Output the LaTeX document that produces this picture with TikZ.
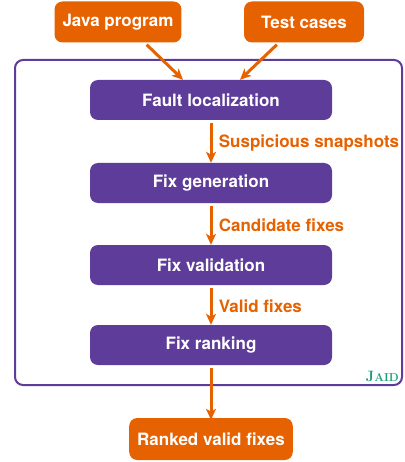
\documentclass[tikz,border=0pt]{standalone}
\usepackage{fontspec}
\setmainfont{TeX Gyre Heros}
\newfontfamily\jaidfont{Latin Modern Roman}
\usetikzlibrary{positioning,arrows.meta}
\definecolor{jorange}{RGB}{230,97,0}
\definecolor{jpurple}{RGB}{94,60,153}
\definecolor{jgreen}{RGB}{27,158,119}

\tikzset{
  stagebox/.style={rectangle, rounded corners=8pt, fill=jpurple, text=white,
    minimum width=242pt, minimum height=40pt, font=\bfseries\fontsize{17}{19}\selectfont},
  iobox/.style={rectangle, rounded corners=8pt, fill=jorange, text=white,
    minimum height=41pt, inner xsep=8pt, font=\bfseries\fontsize{17}{19}\selectfont},
  flow/.style={jorange, line width=3pt, -{Stealth[length=11pt,width=10pt,inset=3pt]}},
  flowlabel/.style={text=jorange, anchor=west, font=\bfseries\fontsize{17}{19}\selectfont}
}

\begin{document}
\begin{tikzpicture}[x=1pt,y=-1pt]
\useasboundingbox (0,0) rectangle (404,462);

% Frame of the tool
\draw[jpurple, line width=2pt, rounded corners=8pt] (15,60) rectangle (402,385);
\node[anchor=base east, inner sep=0pt, text=jgreen, font=\jaidfont\bfseries] (jaid) at (399,381)
  {{\fontsize{15}{16}\selectfont J}{\fontsize{11.5}{12}\selectfont AID}};

% Inputs and output
\node[iobox, minimum width=124pt] (java) at (118,22) {Java program};
\node[iobox, minimum width=120pt] (tests) at (304,22) {Test cases};
\node[iobox, minimum width=162pt, minimum height=42pt] (ranked) at (211,439) {Ranked valid fixes};

% Draw the four stages
\foreach \i/\y/\t in {fl/100/Fault localization, fg/183/Fix generation, fv/265/Fix validation, fr/345/Fix ranking} {
    \node[stagebox] (\i) at (211,\y) {\t};
}

% Draw the flow between them
\draw[flow] (java.south east) ++(-35,2) -- ([xshift=-28pt]fl.north);
\draw[flow] (tests.south west) ++(33,2) -- ([xshift=29pt]fl.north);
\draw[flow] (fl.south) ++(0,3) -- (fg.north) node[flowlabel, midway, xshift=3pt] {Suspicious snapshots};
\draw[flow] (fg.south) ++(0,3) -- (fv.north) node[flowlabel, midway, xshift=3pt] {Candidate fixes};
\draw[flow] (fv.south) ++(0,3) -- (fr.north) node[flowlabel, midway, xshift=3pt] {Valid fixes};
\draw[flow] (fr.south) ++(0,3) -- ([yshift=-2pt]ranked.north);

\end{tikzpicture}
\end{document}
